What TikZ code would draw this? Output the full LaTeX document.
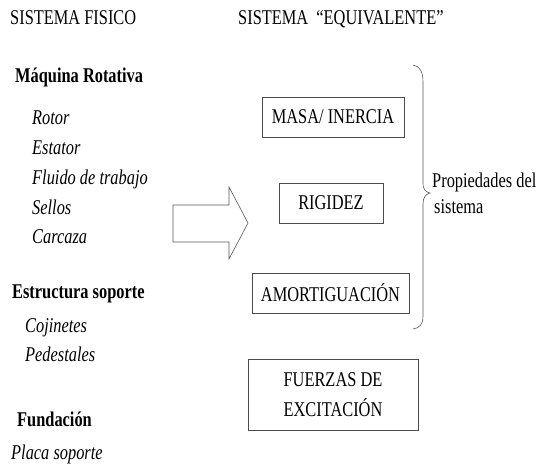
\documentclass[tikz,border=0pt]{standalone}
\usepackage{fontspec}
\setmainfont[FakeStretch=0.78]{Liberation Serif}
\begin{document}
\begin{tikzpicture}[x=1pt,y=-1pt,
    txt/.style={inner sep=0pt,anchor=base west,text=black},
    item/.style={txt,font=\itshape},
    head/.style={txt,font=\bfseries},
    propbox/.style={draw=black!70,semithick,inner sep=0pt,align=center,text=black}]
  \useasboundingbox[fill=white] (0,0) rectangle (538,469);
  \fontsize{21}{30}\selectfont
  % titulos
  \node[txt] (fisico) at (10,24) {SISTEMA FISICO};
  \node[txt] (equiv) at (238,24) {SISTEMA\ \ “EQUIVALENTE”};
  % sistema fisico
  \node[head] (maquina) at (15,82) {Máquina Rotativa};
  \node[item] (rotor) at (32,124) {Rotor};
  \node[item] (estator) at (32,154) {Estator};
  \node[item] (fluido) at (32,184) {Fluido de trabajo};
  \node[item] (sellos) at (32,214) {Sellos};
  \node[item] (carcaza) at (32,243) {Carcaza};
  \node[head] (estructura) at (12,298) {Estructura soporte};
  \node[item] (cojinetes) at (25,332) {Cojinetes};
  \node[item] (pedestales) at (25,361) {Pedestales};
  \node[head] (fundacion) at (17,426) {Fundación};
  \node[item] (placa) at (11,459) {Placa soporte};
  % flecha
  \draw[black!65,semithick] (173,205) -- (229,205) -- (229,187) -- (248,223)
    -- (229,259) -- (229,242) -- (173,242) -- cycle;
  % sistema equivalente
  \node[propbox,minimum width=142,minimum height=40] (masa) at (333,117) {MASA/ INERCIA};
  \node[propbox,minimum width=104,minimum height=40] (rigidez) at (331,203) {RIGIDEZ};
  \node[propbox,minimum width=157,minimum height=40] (amort) at (330.5,293) {AMORTIGUACIÓN};
  \node[propbox,minimum width=170,minimum height=71] (fuerzas) at (333,394.5)
    {FUERZAS DE\\[-0.5pt]EXCITACIÓN};
  % llave
  \draw[black!65,semithick] (413,65) .. controls (420,66) and (423,72) .. (423,82)
    -- (423,183) .. controls (423,190) and (426,192) .. (430,193)
    .. controls (426,194) and (423,197) .. (423,204)
    -- (423,316) .. controls (423,324) and (420,328) .. (413,329);
  \node[txt] (prop) at (432,187) {Propiedades del};
  \node[txt] (sist) at (434,213) {sistema};
\end{tikzpicture}
\end{document}
